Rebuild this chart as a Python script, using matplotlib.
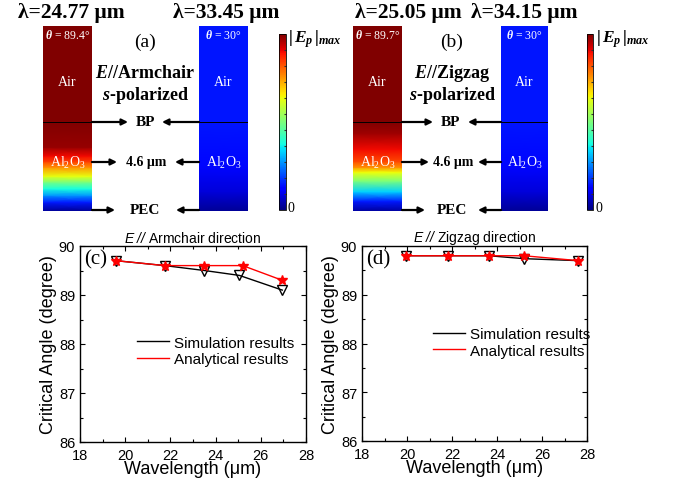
import numpy as np
import matplotlib
matplotlib.use("Agg")
import matplotlib.pyplot as plt
from matplotlib.lines import Line2D
from matplotlib.cm import ScalarMappable
from matplotlib.colors import Normalize

plt.rcParams['font.family'] = ['Liberation Sans', 'DejaVu Sans']
plt.rcParams['mathtext.fontset'] = 'custom'
plt.rcParams['mathtext.rm'] = 'Liberation Serif'
plt.rcParams['mathtext.it'] = 'Liberation Serif:italic:bold'
plt.rcParams['mathtext.bf'] = 'Liberation Serif:bold'
plt.rcParams['mathtext.sf'] = 'Liberation Sans:italic'

# ---------------- data ----------------
# (c) E // Armchair
wl_c_sim = [19.6, 21.75, 23.5, 25.05, 26.95]
ang_c_sim = [89.7, 89.6, 89.5, 89.4, 89.1]
wl_c_ana = [19.6, 21.75, 23.5, 25.2, 26.95]
ang_c_ana = [89.7, 89.6, 89.6, 89.6, 89.3]
# (d) E // Zigzag
wl_d_sim = [19.95, 21.8, 23.65, 25.2, 27.6]
ang_d_sim = [89.8, 89.8, 89.8, 89.74, 89.7]
wl_d_ana = [19.95, 21.8, 23.65, 25.2, 27.6]
ang_d_ana = [89.8, 89.8, 89.8, 89.8, 89.7]

# field profiles |E| (normalised) vs height above PEC (um); BP at 4.6 um
z_a1 = [0, 0.45, 0.8, 1.15, 1.5, 1.8, 2.25, 2.55, 2.85, 3.3, 4.6, 9.56]
E_a1 = [0.02, 0.15, 0.27, 0.38, 0.5, 0.63, 0.75, 0.84, 0.9, 0.98, 1.0, 1.0]
z_b1 = [0, 0.5, 1.0, 1.55, 2.0, 2.25, 2.55, 3.2, 4.0, 4.6, 9.56]
E_b1 = [0.03, 0.15, 0.33, 0.5, 0.64, 0.75, 0.83, 0.9, 0.97, 1.0, 1.0]
z_blue = [0, 1.0, 2.3, 4.6, 9.56]
E_blue = [0.02, 0.08, 0.13, 0.145, 0.145]

titles_top = ['λ=24.77 μm', 'λ=33.45 μm', 'λ=25.05 μm', 'λ=34.15 μm']
theta_labels = [r'$\theta$ = 89.4°', r'$\theta$ = 30°', r'$\theta$ = 89.7°', r'$\theta$ = 30°']

W, H = 674, 481
fig = plt.figure(figsize=(W / 100, H / 100), dpi=100)


def rect(x0, y0, x1, y1):
    return [x0 / W, 1 - y1 / H, (x1 - x0) / W, (y1 - y0) / H]


def field_bar(r, z, e, theta):
    ax = fig.add_axes(r)
    C = np.column_stack([e, e])
    ax.pcolormesh([0, 1], z, C, shading='gouraud', cmap='jet', vmin=0, vmax=1)
    ax.set_xlim(0, 1)
    ax.set_ylim(0, 9.56)
    ax.axhline(4.6, color='k', lw=0.7)
    ax.set_xticks([]); ax.set_yticks([])
    for s in ax.spines.values():
        s.set_visible(False)
    ax.text(0.5, 0.955, theta, transform=ax.transAxes, color='white', ha='center',
            va='center', fontsize=8.5, family='Liberation Serif')
    ax.text(0.5, 0.70, 'Air', transform=ax.transAxes, color='white', ha='center',
            va='center', fontsize=10, family='Liberation Serif')
    ax.text(0.5, 0.265, r'Al$_2$O$_3$', transform=ax.transAxes, color='white', ha='center',
            va='center', fontsize=10, family='Liberation Serif')
    return ax


field_bar(rect(43, 27, 92, 212), z_a1, E_a1, theta_labels[0])
field_bar(rect(199, 27, 248, 212), z_blue, E_blue, theta_labels[1])
field_bar(rect(353, 27, 402, 212), z_b1, E_b1, theta_labels[2])
field_bar(rect(501, 27, 548, 212), z_blue, E_blue, theta_labels[3])

cbar_ticks = np.linspace(0, 1, 12)[1:-1]
for (x0, x1) in [(279, 286), (587, 593)]:
    cax = fig.add_axes(rect(x0, 35, x1, 211))
    cb = fig.colorbar(ScalarMappable(norm=Normalize(0, 1), cmap='jet'), cax=cax)
    cb.set_ticks(cbar_ticks)
    cb.set_ticklabels([])
    cax.tick_params(direction='in', length=1.5, width=0.8, colors='#333333')
    cb.outline.set_linewidth(0.6)

# ---------------- line plots ----------------
def line_panel(r, ws, as_, wa, aa, title, letter, leg_xy):
    ax = fig.add_axes(r)
    ax.plot(ws, as_, color='black', lw=1.0, marker='v', mfc='none', mec='black',
            ms=6.5, mew=1.0, zorder=3)
    ax.plot(wa, aa, color='red', lw=1.0, marker='*', mfc='red', mec='red',
            ms=7.5, zorder=4)
    ax.set_xlim(18, 28)
    ax.set_ylim(86, 90)
    ax.set_xticks([18, 20, 22, 24, 26, 28])
    ax.set_yticks([86, 87, 88, 89, 90])
    ax.set_xticks(np.arange(18, 29, 1), minor=True)
    ax.set_yticks(np.arange(86, 90.01, 0.5), minor=True)
    ax.tick_params(which='both', direction='in', top=True, right=True, labelsize=10.5)
    ax.tick_params(axis='x', which='major', pad=4)
    ax.tick_params(axis='y', which='major', pad=3.5)
    ax.tick_params(which='major', length=3.5, width=0.8)
    ax.tick_params(which='minor', length=2, width=0.8)
    for s in ax.spines.values():
        s.set_linewidth(1.0)
    ax.set_xlabel('Wavelength (μm)', fontsize=13, labelpad=-1)
    ax.set_ylabel('Critical Angle (degree)', fontsize=13, labelpad=1)
    ax.set_title(title, fontsize=10, pad=3)
    ax.text(0.02, 0.935, letter, transform=ax.transAxes, fontsize=15,
            family='Liberation Serif', va='center', ha='left')
    handles = [Line2D([], [], color='black', lw=1.0), Line2D([], [], color='red', lw=1.0)]
    ax.legend(handles, ['Simulation results', 'Analytical results'], loc='center left',
              bbox_to_anchor=leg_xy, frameon=False, fontsize=11, borderpad=0,
              borderaxespad=0, handlelength=2.1, handletextpad=0.3, labelspacing=0.15)
    return ax


line_panel(rect(80, 247, 306, 443), wl_c_sim, ang_c_sim, wl_c_ana, ang_c_ana,
           r'$\mathsf{E\ //}$ Armchair direction', '(c)', (0.252, 0.465))
line_panel(rect(362, 247, 587, 442), wl_d_sim, ang_d_sim, wl_d_ana, ang_d_ana,
           r'$\mathsf{E\ //}$ Zigzag direction', '(d)', (0.316, 0.505))

# ---------------- overlay annotations (pixel coords) ----------------
ov = fig.add_axes([0, 0, 1, 1], zorder=10)
ov.set_xlim(0, W); ov.set_ylim(H, 0)
ov.axis('off')
ov.patch.set_alpha(0)

serif = 'Liberation Serif'
for x, t in zip([71, 226, 408, 524], titles_top):
    ov.text(x, 13, t, ha='center', va='center', fontsize=15.5, fontweight='bold', family=serif)

for cx, letter, pol in [(145, '(a)', 'Armchair'), (452, '(b)', 'Zigzag')]:
    ov.text(cx, 42, letter, ha='center', va='center', fontsize=14, family=serif)
    ov.text(cx, 74, r'$E$//' + pol, ha='center', va='center', fontsize=13,
            fontweight='bold', family=serif)
    ov.text(cx, 96, r'$s$-polarized', ha='center', va='center', fontsize=13,
            fontweight='bold', family=serif)

arrow_kw = dict(arrowstyle='-|>', color='black', lw=1.6, mutation_scale=9,
                shrinkA=0, shrinkB=0)
layouts = [
    (92, 199, [(123, 'BP', 145, 128, 162), (163, '4.6 μm', 146, 117, 175),
               (211, 'PEC', 145, 115, 176)]),
    (402, 501, [(123, 'BP', 450, 433, 468), (163, '4.6 μm', 453, 429, 478),
                (211, 'PEC', 452, 425, 478)]),
]
for xr, xl, rows in layouts:
    for y, lab, lx, rt, lt in rows:
        ov.annotate('', xy=(rt, y), xytext=(xr, y), arrowprops=arrow_kw)
        ov.annotate('', xy=(lt, y), xytext=(xl, y), arrowprops=arrow_kw)
        ov.text(lx, y, lab, ha='center', va='center', fontsize=11 if lab != '4.6 μm' else 10,
                fontweight='bold', family=serif)

for x in [288, 596]:
    ov.text(x, 39, r'$\mathbf{|}\,E_p\,\mathbf{|}_{max}$', ha='left', va='center', fontsize=12.5,
            family=serif)
    ov.text(x, 209, '0', ha='left', va='center', fontsize=10, family=serif)

fig.savefig('out.png', dpi=100)
